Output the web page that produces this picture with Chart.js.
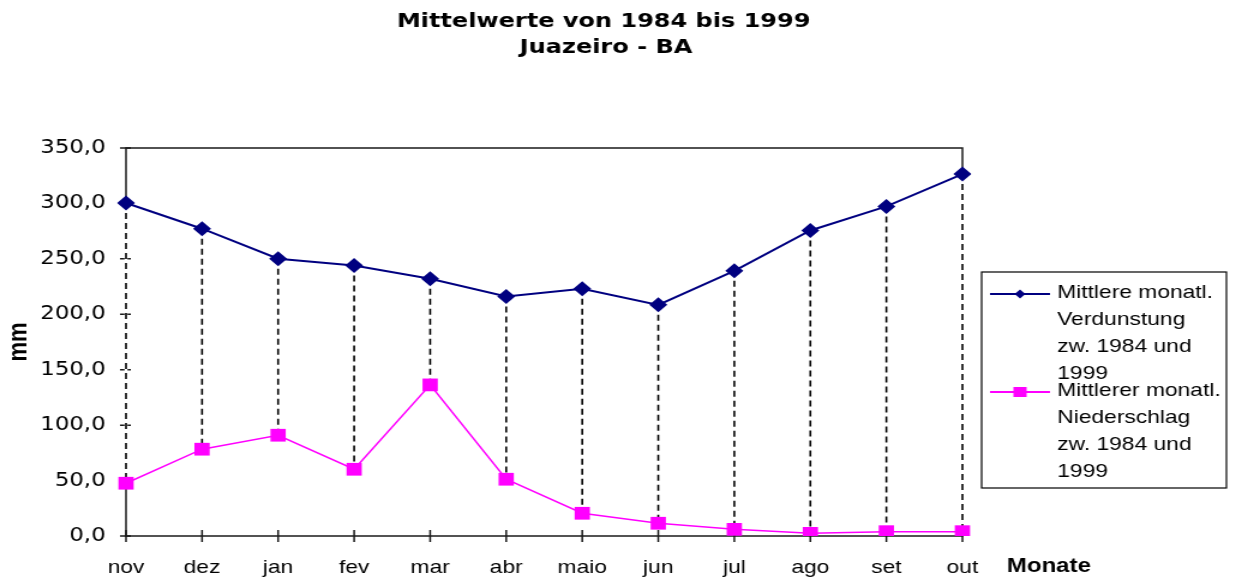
<!DOCTYPE html>
<html>
<head>
<meta charset="utf-8">
<script src="https://cdn.jsdelivr.net/npm/chart.js@4.4.0/dist/chart.umd.min.js"></script>
<style>
  body { margin: 0; background: #fff; }
  /* the reference picture is stretched sideways, so the canvas is drawn narrower and widened by css */
  #myChart { display: block; width: 1236px; height: 579px; }
</style>
</head>
<body>
<canvas id="myChart" width="1030" height="579" style="width:1236px;height:579px"></canvas>
<script>
const titleLines = ["Mittelwerte von 1984 bis 1999", "Juazeiro - BA"];
const months = ["nov", "dez", "jan", "fev", "mar", "abr", "maio", "jun", "jul", "ago", "set", "out"];
const verdunstung = [300.4, 277.2, 250.1, 244.0, 232.0, 216.0, 223.0, 208.5, 239.2, 275.6, 297.3, 326.5];
const niederschlag = [47.6, 78.3, 90.9, 60.2, 136.3, 51.2, 20.5, 11.5, 6.0, 2.4, 3.9, 3.9];
const seriesNames = [
  ["Mittlere monatl.", "Verdunstung", "zw. 1984 und", "1999"],
  ["Mittlerer monatl.", "Niederschlag", "zw. 1984 und", "1999"],
];
const yMin = 0;
const yMax = 350;
const yStep = 50;
const yTitle = "mm";
const xTitle = "Monate";

const sans = "'Liberation Sans', Arial, sans-serif";
const wide = "'DejaVu Sans', Verdana, sans-serif";

/*------------------------------------------
Rahmen, Teilstriche und gestrichelte Verbindungslinien
-------------------------------------------*/
const frameAndDrops = {
  id: "frameAndDrops",
  beforeDatasetsDraw(chart) {
    const { ctx, chartArea: a } = chart;
    const xs = chart.scales.x;
    const ys = chart.scales.y;
    ctx.save();
    ctx.strokeStyle = "#1a1a1a";
    ctx.lineWidth = 1.5;
    ctx.strokeRect(a.left, a.top, a.right - a.left, a.bottom - a.top);
    ctx.beginPath();
    ys.ticks.forEach((t, i) => {
      const y = ys.getPixelForTick(i);
      ctx.moveTo(a.left - 5, y);
      ctx.lineTo(a.left + 4, y);
    });
    xs.ticks.forEach((t, i) => {
      const x = xs.getPixelForTick(i);
      ctx.moveTo(x, a.bottom - 6);
      ctx.lineTo(x, a.bottom + 6);
    });
    ctx.stroke();

    // high-low lines between the two series
    const top = chart.getDatasetMeta(0).data;
    const low = chart.getDatasetMeta(1).data;
    top.forEach((p, i) => {
      const q = low[i];
      ctx.setLineDash([]);
      ctx.strokeStyle = "#fff";
      ctx.lineWidth = 2.5;
      ctx.beginPath();
      ctx.moveTo(p.x, p.y);
      ctx.lineTo(q.x, q.y);
      ctx.stroke();
      ctx.setLineDash([6, 4]);
      ctx.strokeStyle = "#000";
      ctx.lineWidth = 1.6;
      ctx.beginPath();
      ctx.moveTo(p.x, p.y);
      ctx.lineTo(q.x, q.y);
      ctx.stroke();
    });
    ctx.restore();
  },
  afterDraw(chart) {
    const { ctx, chartArea: a } = chart;
    ctx.save();
    ctx.fillStyle = "#000";
    ctx.textBaseline = "alphabetic";

    // Titel
    ctx.textAlign = "center";
    ctx.font = "bold 20px " + wide;
    ctx.fillText(titleLines[0], 503, 27);
    ctx.fillText(titleLines[1], 505, 53);

    // Achsentitel x
    ctx.textAlign = "left";
    ctx.font = "bold 20px " + sans;
    ctx.fillText(xTitle, a.right + 37, 572);

    // Legende
    const lx = a.right + 16;
    ctx.strokeStyle = "#000";
    ctx.lineWidth = 1.2;
    ctx.strokeRect(lx, 272, 204, 216);
    ctx.font = "19px " + sans;
    chart.data.datasets.forEach((ds, i) => {
      const sy = 294 + i * 98;
      ctx.strokeStyle = ds.borderColor;
      ctx.fillStyle = ds.borderColor;
      ctx.lineWidth = 2;
      ctx.beginPath();
      ctx.moveTo(lx + 7, sy);
      ctx.lineTo(lx + 57, sy);
      ctx.stroke();
      const mx = lx + 32;
      ctx.beginPath();
      if (ds.pointStyle === "rectRot") {
        ctx.moveTo(mx, sy - 4.5);
        ctx.lineTo(mx + 4.5, sy);
        ctx.lineTo(mx, sy + 4.5);
        ctx.lineTo(mx - 4.5, sy);
      } else {
        ctx.rect(mx - 5.5, sy - 5, 11, 10);
      }
      ctx.closePath();
      ctx.fill();
      ctx.fillStyle = "#000";
      seriesNames[i].forEach((line, k) => {
        ctx.fillText(line, lx + 63, sy + 4 + k * 27);
      });
    });
    ctx.restore();
  },
};

const ctx = document.getElementById("myChart").getContext("2d");
const myChart = new Chart(ctx, {
  type: "line",
  data: {
    labels: months,
    datasets: [
      {
        label: seriesNames[0].join(" "),
        data: verdunstung,
        borderColor: "#000080",
        backgroundColor: "#000080",
        borderWidth: 2,
        pointStyle: "rectRot",
        pointRadius: 7.5,
        pointBorderWidth: 0,
        tension: 0,
      },
      {
        label: seriesNames[1].join(" "),
        data: niederschlag,
        borderColor: "#ff00ff",
        backgroundColor: "#ff00ff",
        borderWidth: 1.5,
        pointStyle: "rect",
        pointRadius: 9,
        pointBorderWidth: 0,
        tension: 0,
      },
    ],
  },
  options: {
    responsive: false,
    animation: false,
    layout: {
      padding: { left: 0, right: 228, top: 148, bottom: 0 },
    },
    plugins: {
      legend: { display: false },
      title: { display: false },
      tooltip: { enabled: false },
    },
    scales: {
      x: {
        offset: false,
        grid: { display: false, drawTicks: false },
        border: { display: false },
        ticks: {
          color: "#000",
          padding: 20,
          maxRotation: 0,
          autoSkip: false,
          font: { family: sans, size: 19 },
        },
        afterFit(scale) {
          scale.height = 43;
        },
      },
      y: {
        min: yMin,
        max: yMax,
        grid: { display: false, drawTicks: false },
        border: { display: false },
        ticks: {
          stepSize: yStep,
          color: "#000",
          padding: 17,
          font: { family: wide, size: 19 },
          callback: (v) => v.toFixed(1).replace(".", ","),
        },
        title: {
          display: true,
          text: yTitle,
          color: "#000",
          padding: { top: 3, bottom: 0 },
          font: { family: sans, size: 22, weight: "bold" },
        },
        afterFit(scale) {
          scale.width = 105;
        },
      },
    },
  },
  plugins: [frameAndDrops],
});
</script>
</body>
</html>
